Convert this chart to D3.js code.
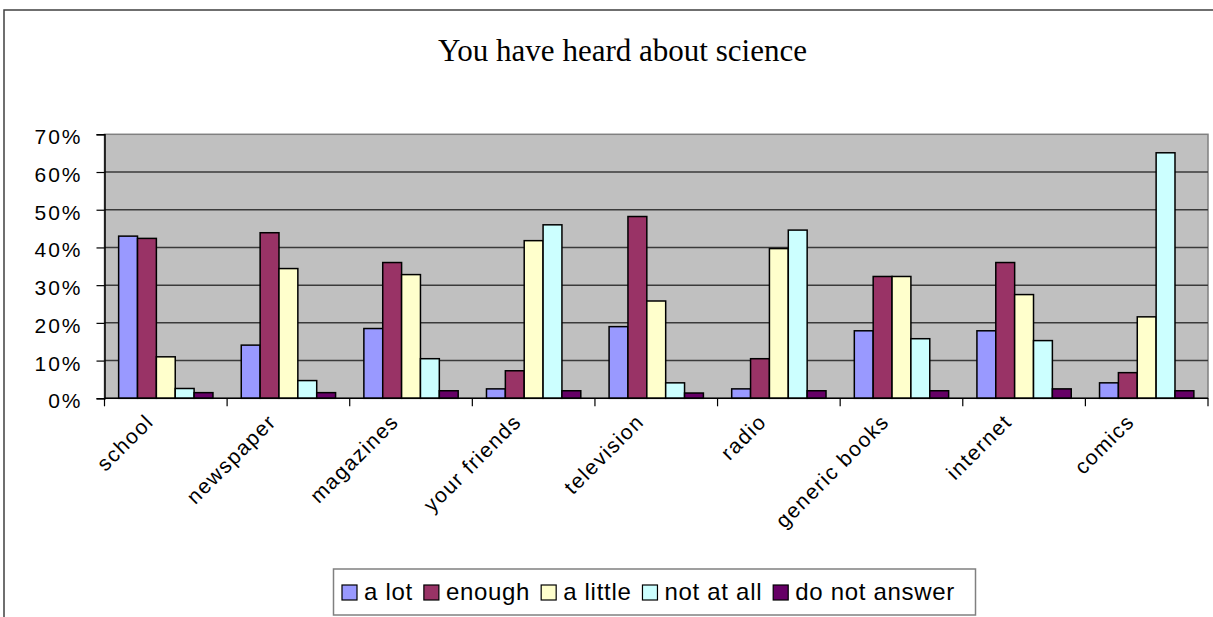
<!DOCTYPE html>
<html>
<head>
<meta charset="utf-8">
<script src="https://cdn.jsdelivr.net/npm/d3@7"></script>
<style>
  body { margin: 0; background: #fff; }
  svg { display: block; }
  text { font-family: Arial, "Liberation Sans", sans-serif; fill: #000; }
</style>
</head>
<body>
<svg width="1213" height="617"></svg>
<script>
var svg = d3.select("svg");

// data (percent)
var categories = ["school", "newspaper", "magazines", "your friends", "television", "radio", "generic books", "internet", "comics"];
var seriesNames = ["a lot", "enough", "a little", "not at all", "do not answer"];
var aLot = [43, 14.1, 18.5, 2.5, 19, 2.5, 17.9, 17.9, 4.1];
var enough = [42.4, 43.9, 36, 7.3, 48.2, 10.5, 32.3, 36, 6.8];
var aLittle = [11, 34.4, 32.8, 41.8, 25.8, 39.7, 32.3, 27.5, 21.6];
var notAtAll = [2.6, 4.7, 10.5, 46, 4.1, 44.6, 15.8, 15.3, 65.1];
var doNotAnswer = [1.5, 1.5, 2, 2, 1.4, 2, 2, 2.5, 2];
var yTicks = [0, 10, 20, 30, 40, 50, 60, 70];
var colors = ["#9999ff", "#993366", "#ffffcc", "#ccffff", "#660066"];

var values = [aLot, enough, aLittle, notAtAll, doNotAnswer];

// plot area ("top" is taken by window.top, so prefixed names)
var plotLeft = 104.5, plotRight = 1208, plotTop = 134.3, plotBottom = 398.3;

// outer chart frame
svg.append("rect")
  .attr("x", 4).attr("y", 10)
  .attr("width", 1230).attr("height", 630)
  .attr("fill", "#fff")
  .attr("stroke", "#404040")
  .attr("stroke-width", 1.5);

// title
svg.append("text")
  .attr("x", 622.5)
  .attr("y", 61)
  .attr("text-anchor", "middle")
  .attr("textLength", 369)
  .attr("lengthAdjust", "spacingAndGlyphs")
  .style("font-family", "'Liberation Serif', 'Times New Roman', serif")
  .style("font-size", "31px")
  .text("You have heard about science");

var x0 = d3.scaleBand()
  .domain(categories)
  .range([plotLeft, plotRight])
  .paddingInner(0)
  .paddingOuter(0);

var x1 = d3.scaleBand()
  .domain(seriesNames)
  .range([0, x0.bandwidth()])
  .paddingInner(0)
  .paddingOuter(0.75);

var y = d3.scaleLinear()
  .domain([0, 70])
  .range([plotBottom, plotTop]);

// plot background
svg.append("rect")
  .attr("x", plotLeft).attr("y", plotTop)
  .attr("width", plotRight - plotLeft).attr("height", plotBottom - plotTop)
  .attr("fill", "#c0c0c0")
  .attr("stroke", "#808080")
  .attr("stroke-width", 1.5);

// gridlines
svg.append("g")
  .selectAll("line")
  .data(yTicks.slice(1, -1))
  .enter().append("line")
  .attr("x1", plotLeft).attr("x2", plotRight)
  .attr("y1", function(d) { return y(d); })
  .attr("y2", function(d) { return y(d); })
  .attr("stroke", "#3a3a3a")
  .attr("stroke-width", 1.5);

// bars
var groups = svg.append("g")
  .selectAll("g")
  .data(categories)
  .enter().append("g")
  .attr("transform", function(d) { return "translate(" + x0(d) + ",0)"; });

groups.selectAll("rect")
  .data(function(d, i) {
    return seriesNames.map(function(s, j) {
      return { series: s, value: values[j][i], color: colors[j] };
    });
  })
  .enter().append("rect")
  .attr("x", function(d) { return x1(d.series); })
  .attr("y", function(d) { return y(d.value); })
  .attr("width", x1.bandwidth())
  .attr("height", function(d) { return plotBottom - y(d.value); })
  .attr("fill", function(d) { return d.color; })
  .attr("stroke", "#000")
  .attr("stroke-width", 1.5);

// y axis
var yAxis = d3.axisLeft(y)
  .tickValues(yTicks)
  .tickSize(8)
  .tickFormat(function(d) { return d + "%"; });

var gy = svg.append("g")
  .attr("transform", "translate(" + plotLeft + ",0)")
  .call(yAxis);
gy.select(".domain").attr("stroke", "#000").attr("stroke-width", 1.5);
gy.selectAll(".tick line").attr("stroke", "#000").attr("stroke-width", 1.2);
gy.selectAll(".tick text")
  .attr("x", -22)
  .attr("dy", "0.45em")
  .attr("fill", "#000")
  .style("font-size", "21px")
  .style("letter-spacing", "2px")
  .style("font-family", "Arial, 'Liberation Sans', sans-serif");

// x axis with ticks between categories
var gx = svg.append("g");
gx.append("line")
  .attr("x1", plotLeft).attr("x2", plotRight)
  .attr("y1", plotBottom).attr("y2", plotBottom)
  .attr("stroke", "#000").attr("stroke-width", 1.5);

var boundaries = categories.map(function(d) { return x0(d); }).concat([plotRight]);
gx.selectAll("line.tk")
  .data(boundaries)
  .enter().append("line")
  .attr("class", "tk")
  .attr("x1", function(d) { return d; })
  .attr("x2", function(d) { return d; })
  .attr("y1", plotBottom)
  .attr("y2", plotBottom + 8)
  .attr("stroke", "#000").attr("stroke-width", 1.2);

gx.selectAll("text")
  .data(categories)
  .enter().append("text")
  .attr("transform", function(d) {
    var cx = x0(d) + x0.bandwidth() / 2 - 11;
    return "translate(" + cx + "," + 423 + ") rotate(-45)";
  })
  .attr("text-anchor", "end")
  .style("font-size", "21px")
  .style("letter-spacing", "1.5px")
  .text(function(d) { return d; });

// legend
var legend = svg.append("g");
legend.append("rect")
  .attr("x", 333.5).attr("y", 569)
  .attr("width", 642).attr("height", 46)
  .attr("fill", "#fff")
  .attr("stroke", "#808080")
  .attr("stroke-width", 1.5);

var lx = 342;
seriesNames.forEach(function(s, i) {
  legend.append("rect")
    .attr("x", lx).attr("y", 585)
    .attr("width", 15).attr("height", 15)
    .attr("fill", colors[i])
    .attr("stroke", "#000")
    .attr("stroke-width", 1.2);
  var t = legend.append("text")
    .attr("x", lx + 22)
    .attr("y", 600)
    .style("font-size", "24px")
    .style("letter-spacing", "0.7px")
    .text(s);
  lx += 22 + t.node().getComputedTextLength() + 11;
});
</script>
</body>
</html>
